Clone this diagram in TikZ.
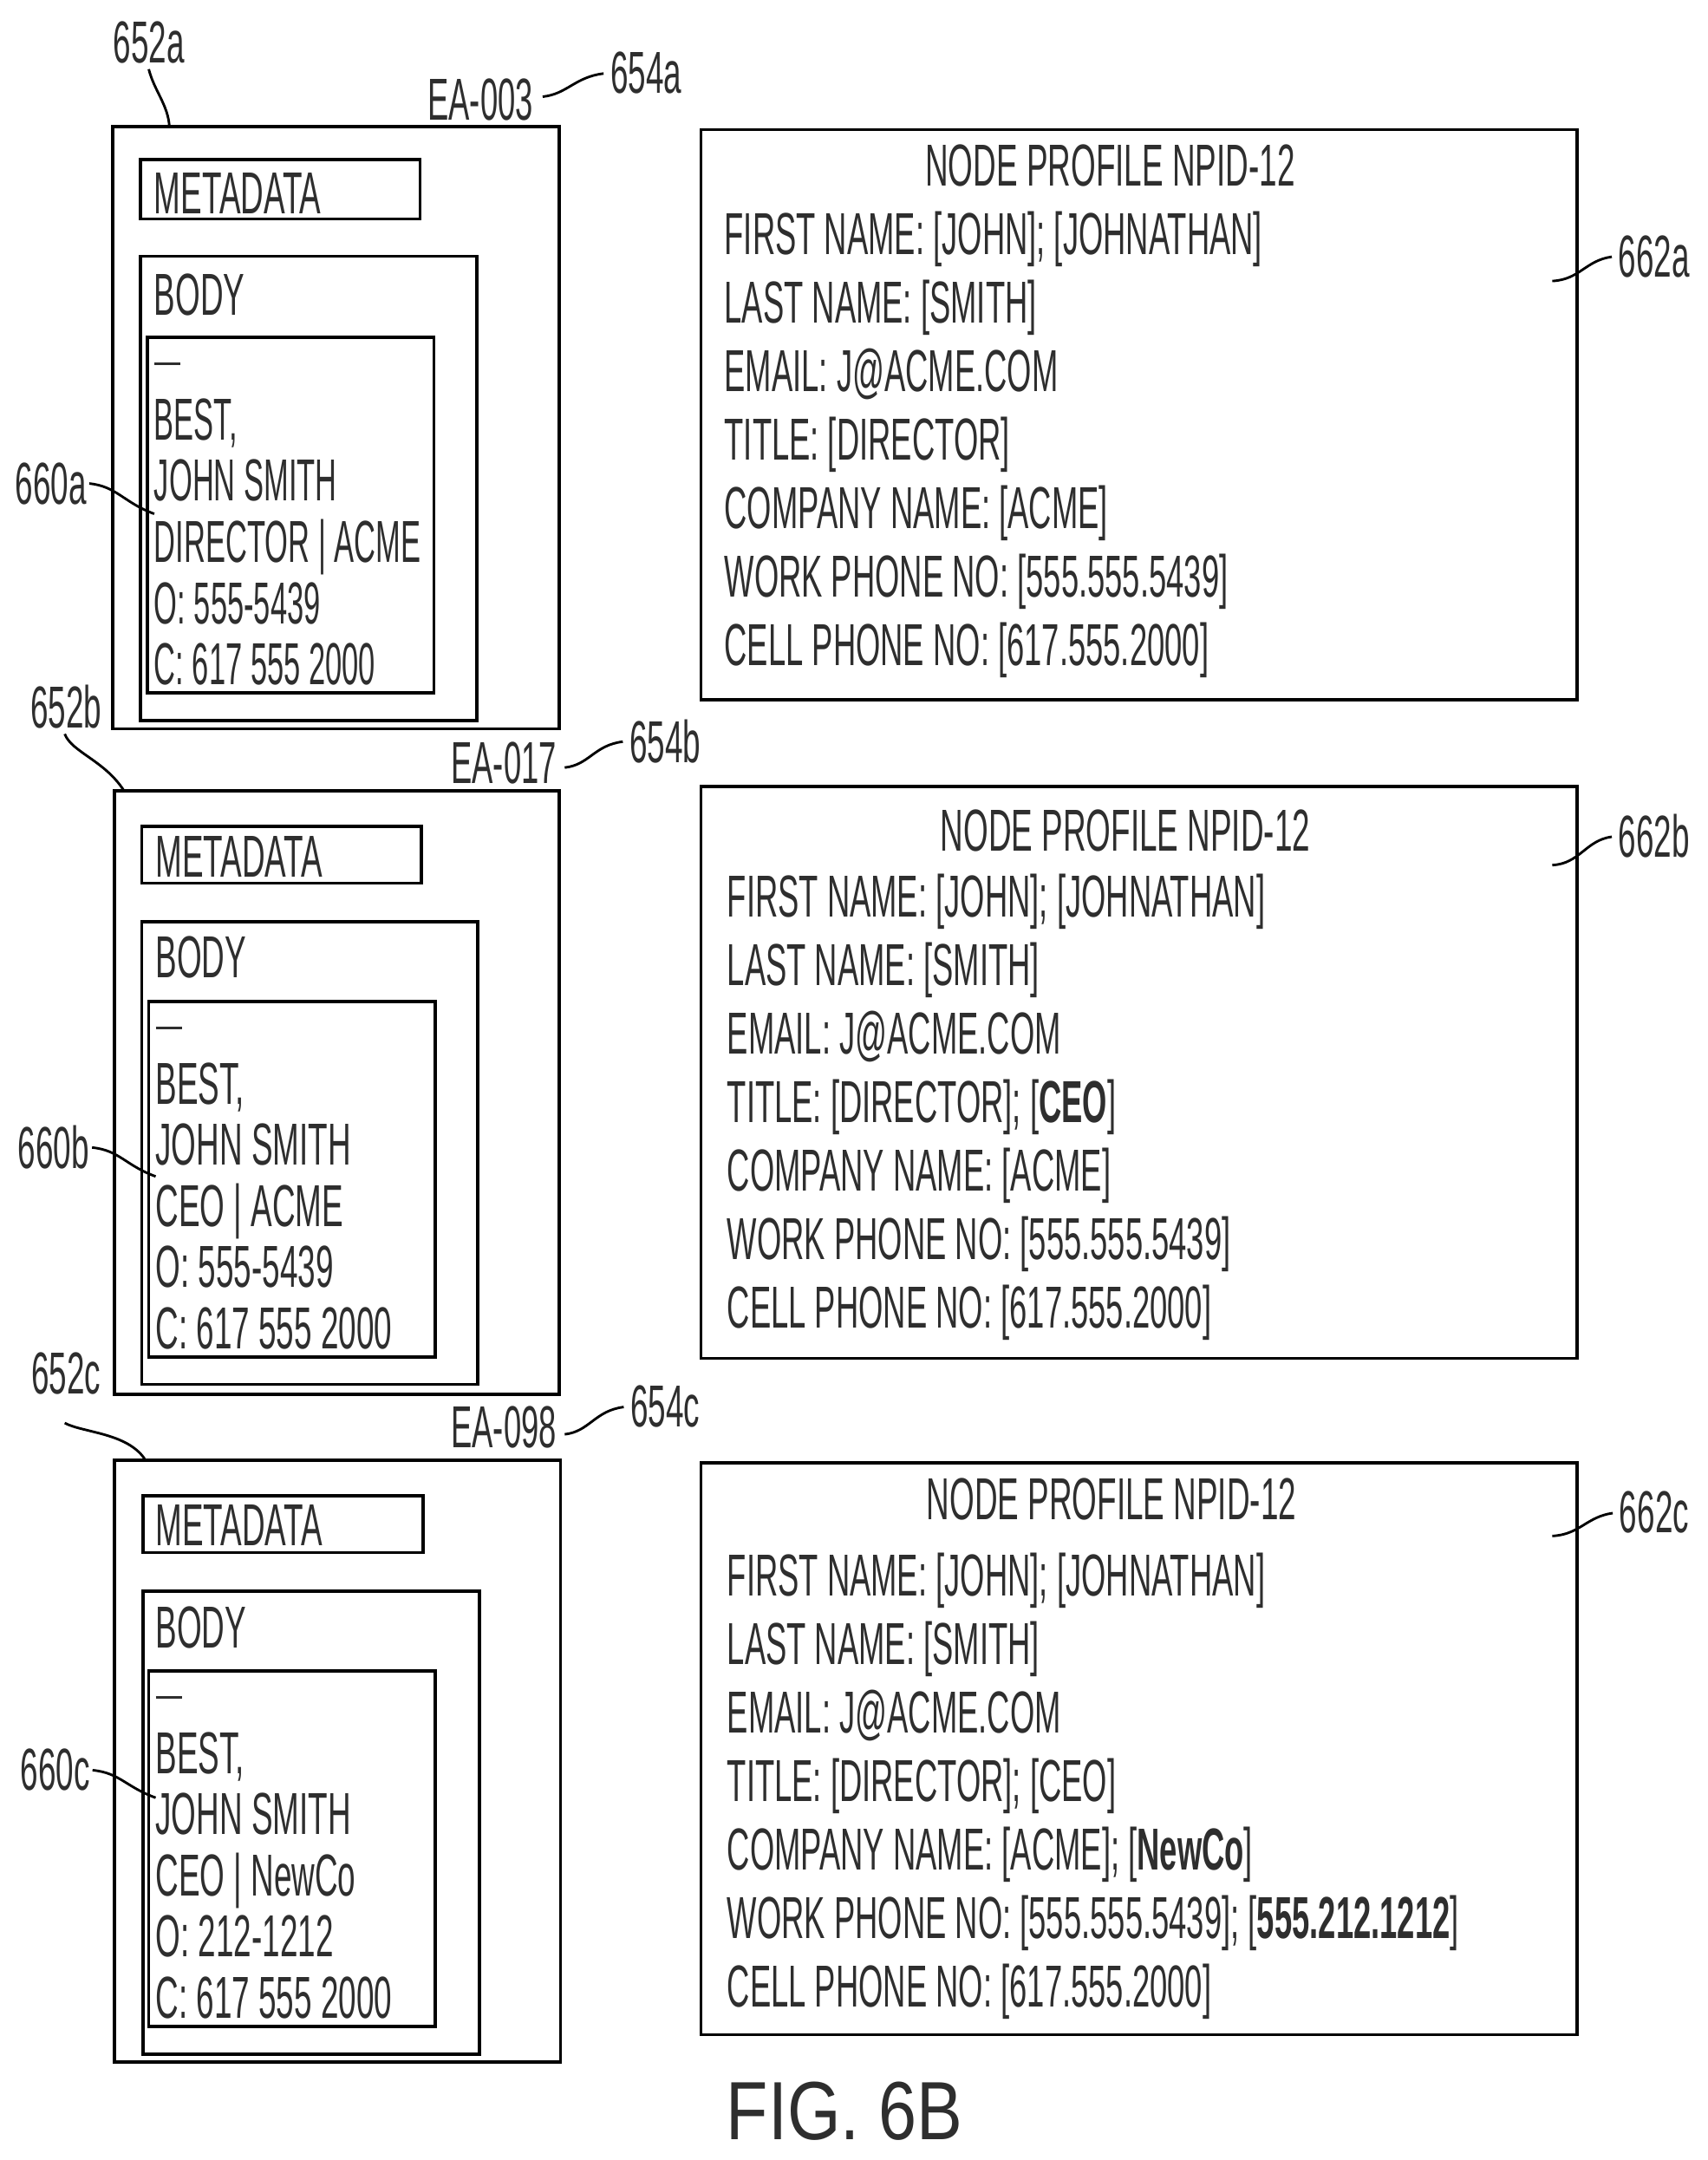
\documentclass[tikz,border=0pt]{standalone}
\usepackage{fontspec}
\setmainfont{Liberation Sans}[FakeStretch=0.54]
\newfontfamily\figfont{Liberation Sans}[FakeStretch=0.83]
\newfontfamily\narrowfont{Liberation Sans}[FakeStretch=0.505]
\newfontfamily\listfont{Liberation Sans}[FakeStretch=0.533]
\newcommand{\rectbox}[5]{%
  \pgfmathsetlengthmacro{\rw}{(#4-#2)*0.5pt}%
  \pgfmathsetlengthmacro{\rh}{(#5-#3)*0.5pt}%
  \node[boxline,minimum width=\rw,minimum height=\rh] (#1) at ({(#2+#4)/2},{(#3+#5)/2}) {};}
\newcommand{\sigdash}{\rule[2.5pt]{9.5pt}{0.9pt}}
\colorlet{ink}{black!82}
\tikzset{
  boxline/.style={draw=black,line width=1.15pt,inner sep=0pt,outer sep=0pt},
  txt/.style={inner sep=0pt,outer sep=0pt,text=ink,font=\fontsize{21.5}{22}\selectfont,anchor=base west},
  lefttxt/.style={inner sep=0pt,outer sep=0pt,text=ink,align=left,anchor=base west,font=\fontsize{21.5}{22.2}\selectfont},
  righttxt/.style={inner sep=0pt,outer sep=0pt,text=ink,align=left,anchor=base west,font=\listfont\fontsize{21.5}{24.85}\selectfont},
  lab/.style={inner sep=1pt,outer sep=0pt,text=ink,font=\fontsize{21.5}{22}\selectfont},
  leader/.style={draw=black,line width=0.9pt,shorten >=1.5pt},
  leaderbox/.style={draw=black,line width=0.9pt},
}
\begin{document}
\begin{tikzpicture}[x=0.5pt,y=-0.5pt]
\useasboundingbox (0,0) rectangle (1240,1568);
% ---- panel a
\rectbox{outerA}{82}{92}{406}{529}
\rectbox{metaA}{102}{116}{305}{159}
\rectbox{bodyA}{102}{186}{346}{523}
\rectbox{sigA}{107}{245}{315}{503}
\node[txt] (metaTxtA) at (112,155) {METADATA};
\node[txt] (bodyTxtA) at (112,228.5) {BODY};
\node[lefttxt,font=\narrowfont\fontsize{21.5}{22.2}\selectfont] (sigTxtA) at (112,497) {\sigdash\\[2.5pt]BEST,\\JOHN SMITH\\DIRECTOR | ACME\\O: 555-5439\\C: 617 555 2000};
\node[txt,anchor=base east,font=\listfont\fontsize{21.5}{22}\selectfont] (eaA) at (387,87) {EA-003};
\node[lab] (l652a) at (108,31) {652a};
\node[lab] (l654a) at (469,53) {654a};
\node[lab] (l660a) at (37,351) {660a};
\coordinate (c652a) at (123,92);
\coordinate (c660a) at (112,373);
\draw[leaderbox] (l652a.south) ++(0,2) coordinate (s652a) .. controls (112,66) and (122,76) .. (c652a);
\draw[leaderbox] (l660a.east) .. controls +(20,2) and +(-22,-8) .. (c660a);
\draw[leader] (eaA.east) ++(7,-2) coordinate (s654a) .. controls +(18,-2) and +(-24,3) .. (l654a.west);
% ---- panel b
\rectbox{outerB}{83}{574}{406}{1012}
\rectbox{metaB}{103}{600}{306}{641}
\rectbox{bodyB}{103}{669}{347}{1005}
\rectbox{sigB}{108}{727}{316}{985}
\node[txt] (metaTxtB) at (113,637) {METADATA};
\node[txt] (bodyTxtB) at (113,710) {BODY};
\node[lefttxt] (sigTxtB) at (113,979) {\sigdash\\[2.5pt]BEST,\\JOHN SMITH\\CEO | ACME\\O: 555-5439\\C: 617 555 2000};
\node[txt,anchor=base east,font=\listfont\fontsize{21.5}{22}\selectfont] (eaB) at (404,569) {EA-017};
\node[lab] (l652b) at (48,513) {652b};
\node[lab] (l654b) at (483,538) {654b};
\node[lab] (l660b) at (39,833) {660b};
\coordinate (c652b) at (90,574);
\coordinate (c660b) at (113,854);
\draw[leaderbox] (l652b.south) ++(-1,2) coordinate (s652b) .. controls (52,546) and (76,552) .. (c652b);
\draw[leaderbox] (l660b.east) .. controls +(20,2) and +(-22,-8) .. (c660b);
\draw[leader] (eaB.east) ++(6,3) coordinate (s654b) .. controls +(18,-2) and +(-24,3) .. (l654b.west);
% ---- panel c
\rectbox{outerC}{83}{1060}{407}{1497}
\rectbox{metaC}{104}{1086}{307}{1127}
\rectbox{bodyC}{104}{1155}{348}{1491}
\rectbox{sigC}{108}{1213}{316}{1471}
\node[txt] (metaTxtC) at (113,1122) {METADATA};
\node[txt] (bodyTxtC) at (113,1196) {BODY};
\node[lefttxt] (sigTxtC) at (113,1465) {\sigdash\\[2.5pt]BEST,\\JOHN SMITH\\CEO | NewCo\\O: 212-1212\\C: 617 555 2000};
\node[txt,anchor=base east,font=\listfont\fontsize{21.5}{22}\selectfont] (eaC) at (404,1051) {EA-098};
\node[lab] (l652c) at (48,997) {652c};
\node[lab] (l654c) at (483,1021) {654c};
\node[lab] (l660c) at (40,1285) {660c};
\coordinate (s652c) at (47,1033);
\coordinate (c652c) at (105,1059);
\coordinate (c660c) at (113,1305);
\draw[leaderbox] (s652c) .. controls (60,1040) and (92,1040) .. (c652c);
\draw[leaderbox] (l660c.east) .. controls +(20,2) and +(-22,-8) .. (c660c);
\draw[leader] (eaC.east) ++(6,5) coordinate (s654c) .. controls +(18,-2) and +(-24,3) .. (l654c.west);
% ---- profiles
\rectbox{profA}{509}{94}{1145}{508}
\node[txt,anchor=base] (titleA) at (806,135) {NODE PROFILE NPID-12};
\node[righttxt] (listA) at (526,483) {FIRST NAME: [JOHN]; [JOHNATHAN]\\LAST NAME: [SMITH]\\EMAIL: J@ACME.COM\\TITLE: [DIRECTOR]\\COMPANY NAME: [ACME]\\WORK PHONE NO: [555.555.5439]\\CELL PHONE NO: [617.555.2000]};
\node[lab] (l662a) at (1201,186) {662a};
\coordinate (c662a) at (1127,204);
\draw[leader] (c662a) .. controls +(20,-1) and +(-22,3) .. (l662a.west);
\rectbox{profB}{509}{571}{1145}{986}
\node[txt,anchor=base] (titleB) at (817,618) {NODE PROFILE NPID-12};
\node[righttxt] (listB) at (528,964) {FIRST NAME: [JOHN]; [JOHNATHAN]\\LAST NAME: [SMITH]\\EMAIL: J@ACME.COM\\TITLE: [DIRECTOR]; [\textbf{CEO}]\\COMPANY NAME: [ACME]\\WORK PHONE NO: [555.555.5439]\\CELL PHONE NO: [617.555.2000]};
\node[lab] (l662b) at (1201,607) {662b};
\coordinate (c662b) at (1127,628);
\draw[leader] (c662b) .. controls +(20,-1) and +(-22,3) .. (l662b.west);
\rectbox{profC}{509}{1062}{1145}{1477}
\node[txt,anchor=base] (titleC) at (807,1103) {NODE PROFILE NPID-12};
\node[righttxt] (listC) at (528,1457) {FIRST NAME: [JOHN]; [JOHNATHAN]\\LAST NAME: [SMITH]\\EMAIL: J@ACME.COM\\TITLE: [DIRECTOR]; [CEO]\\COMPANY NAME: [ACME]; [\textbf{NewCo}]\\WORK PHONE NO: [555.555.5439]; [\textbf{555.212.1212}]\\CELL PHONE NO: [617.555.2000]};
\node[lab] (l662c) at (1201,1098) {662c};
\coordinate (c662c) at (1127,1115);
\draw[leader] (c662c) .. controls +(20,-1) and +(-22,3) .. (l662c.west);
\node[inner sep=0pt,anchor=base west,text=ink,font=\figfont\fontsize{30}{32}\selectfont] (figlabel) at (527,1553) {FIG. 6B};
\end{tikzpicture}
\end{document}
